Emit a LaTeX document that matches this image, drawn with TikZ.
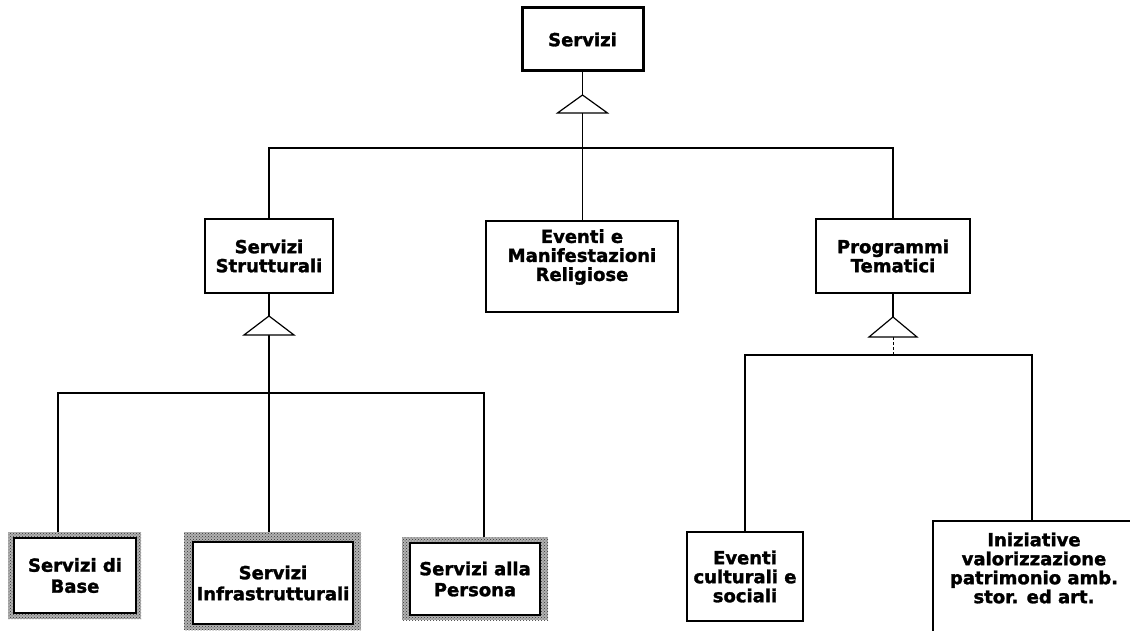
\documentclass[tikz,border=0pt]{standalone}
\usepackage{fontspec}
\setmainfont{DejaVu Sans}[BoldFeatures={FakeBold=1.6}]
\usetikzlibrary{patterns,calc}

\begin{document}
\begin{tikzpicture}[x=1pt,y=-1pt,
  lbl/.style={font=\fontsize{18}{19}\selectfont\bfseries, align=center, inner sep=0pt},
  box/.style={draw, line width=1.5pt, fill=white, inner sep=0pt, outer sep=0pt, lbl},
  rootbox/.style={box, line width=3pt},
  leafframe/.style={preaction={fill=black!30}, pattern=crosshatch dots, pattern color=black!80,
    inner sep=0pt, outer sep=0pt},
  leafbox/.style={box, line width=2.6pt, font=\fontsize{18}{21}\selectfont\bfseries},
  link/.style={line width=1.2pt},
  isa/.style={draw, line width=1.2pt, fill=white, line join=miter}
]
\useasboundingbox (0,0) rectangle (1130,631);

% root
\node[rootbox, minimum width=121pt, minimum height=63pt] (srv) at (582.5,39.5) {Servizi};

% second level
\node[box, minimum width=128pt, minimum height=74pt] (sst) at (269,256) {Servizi\\Strutturali};
\node[box, minimum width=192pt, minimum height=91pt] (evr) at (582,266.5) {};
\node[lbl] (evrt) at (582,257) {Eventi e\\Manifestazioni\\Religiose};
\node[box, minimum width=154pt, minimum height=74pt] (prg) at (893,256) {Programmi\\Tematici};

% leaves of Servizi Strutturali (shaded frames)
\node[leafframe, minimum width=133pt, minimum height=87pt] (basef) at (74.5,575.5) {};
\node[leafbox, minimum width=122pt, minimum height=75pt] (base) at (75,575.5) {Servizi di\\Base};
\node[leafframe, minimum width=177pt, minimum height=98pt] (infraf) at (272.5,581) {};
\node[leafbox, minimum width=160pt, minimum height=82pt] (infra) at (273,583) {Servizi\\Infrastrutturali};
\node[leafframe, minimum width=146pt, minimum height=83pt] (persf) at (475,578.5) {};
\node[leafbox, minimum width=130pt, minimum height=72pt] (pers) at (475,579) {Servizi alla\\Persona};

% leaves of Programmi Tematici
\node[box, minimum width=116pt, minimum height=89pt] (evc) at (745,576.5) {Eventi\\culturali e\\sociali};
\node[box, minimum width=207pt, minimum height=129pt] (ini) at (1036.5,585.5) {};
\node[lbl] (init) at (1034,568) {Iniziative\\valorizzazione\\patrimonio amb.\\stor. ed art.};

% generalisation triangles: apex and base-midpoint coordinates
\coordinate (t1a) at (582.5,95);  \coordinate (t1b) at (582.5,113);
\coordinate (t2a) at (269,316);   \coordinate (t2b) at (269,335);
\coordinate (t3a) at (893,317);   \coordinate (t3b) at (893,337);

% buses
\coordinate (bus1) at (582.5,148);
\coordinate (bus2l) at (58,393);  \coordinate (bus2m) at (269,393); \coordinate (bus2r) at (484,393);
\coordinate (bus3l) at (745,355); \coordinate (bus3m) at (893,355); \coordinate (bus3r) at (1032,355);

% root hierarchy
\draw[link] (srv.south) -- (t1a);
\draw[link] (t1b) -- (bus1);
\draw[link] (sst.north) -- (sst.north |- bus1) -- (prg.north |- bus1) -- (prg.north);
\draw[link] (bus1) -- (bus1 |- evr.north);

% Servizi Strutturali hierarchy
\draw[link] (sst.south) -- (t2a);
\draw[link] (t2b) -- (bus2m);
\draw[link] (bus2l |- basef.north) -- (bus2l) -- (bus2r) -- (bus2r |- persf.north);
\draw[link] (bus2m) -- (bus2m |- infraf.north);

% Programmi Tematici hierarchy
\draw[link] (prg.south) -- (t3a);
\draw[line width=0.8pt, densely dashed] (t3b) -- (bus3m);
\draw[link] (bus3l |- evc.north) -- (bus3l) -- (bus3r) -- (bus3r |- ini.north);

% triangles
\draw[isa] (t1a) -- ($(t1b)+(-25,0)$) -- ($(t1b)+(25,0)$) -- cycle;
\draw[isa] (t2a) -- ($(t2b)+(-25,0)$) -- ($(t2b)+(25,0)$) -- cycle;
\draw[isa] (t3a) -- ($(t3b)+(-24,0)$) -- ($(t3b)+(24,0)$) -- cycle;
\end{tikzpicture}
\end{document}
